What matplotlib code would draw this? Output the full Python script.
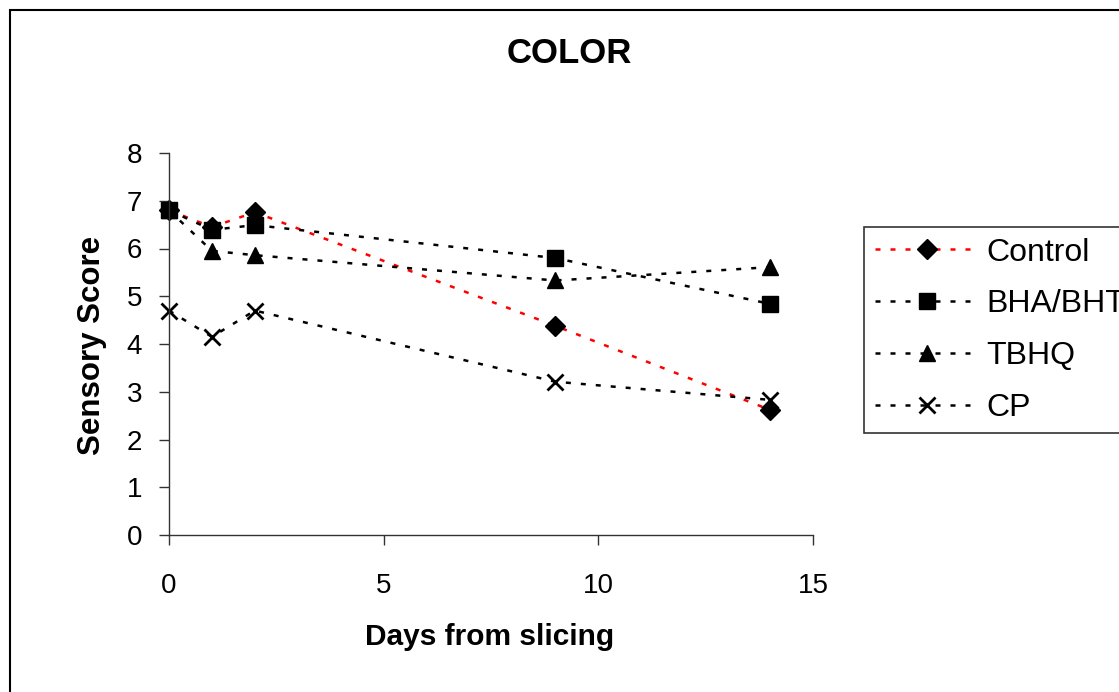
import matplotlib.pyplot as plt
import matplotlib.patches as patches

plt.rcParams['font.family'] = ['Liberation Sans', 'DejaVu Sans']

days = [0, 1, 2, 9, 14]
control = [6.8, 6.45, 6.76, 4.38, 2.62]
bha_bht = [6.8, 6.39, 6.49, 5.8, 4.84]
tbhq = [6.8, 5.95, 5.86, 5.33, 5.61]
cp = [4.7, 4.15, 4.7, 3.21, 2.83]

labels = ["Control", "BHA/BHT", "TBHQ", "CP"]
series = [control, bha_bht, tbhq, cp]
line_colors = ["#FF0000", "black", "black", "black"]
markers = ["D", "s", "^", "x"]
msizes = [10, 11, 12, 12]

fig = plt.figure(figsize=(11.19, 6.92), dpi=100)
ax = fig.add_axes([169/1119, 1-535/692, (813-169)/1119, (535-153)/692])

for y, lab, c, m, ms in zip(series, labels, line_colors, markers, msizes):
    ax.plot(days, y, color=c, lw=1.8, dashes=(2, 4), marker=m, ms=ms,
            mfc="black", mec="black", mew=2 if m == "x" else 1,
            label=lab, clip_on=False)

ax.set_xlim(0, 15)
ax.set_ylim(0, 8)
ax.set_xticks([0, 5, 10, 15])
ax.set_yticks(range(0, 9))
ax.spines['top'].set_visible(False)
ax.spines['right'].set_visible(False)
for s in ['left', 'bottom']:
    ax.spines[s].set_linewidth(1.0)
    ax.spines[s].set_color('#333333')
ax.tick_params(direction='out', length=7.5, width=1.0, color='#333333',
               labelsize=20)
ax.tick_params(axis='x', pad=20)
ax.tick_params(axis='y', pad=12)

fig.text(0.509, 0.923, "COLOR", ha='center', va='center', fontsize=25,
         fontweight='bold')
fig.text(92/1119, 1-345/692, "Sensory Score", ha='center', va='center',
         rotation=90, fontsize=22.5, fontweight='bold')
fig.text(490/1119, 1-637/692, "Days from slicing", ha='center', va='center',
         fontsize=21.5, fontweight='bold')

leg = ax.legend(loc='upper left', bbox_to_anchor=(864/1119, 1-227/692),
                bbox_transform=fig.transFigure, fontsize=23, frameon=True,
                fancybox=False, handlelength=3.3, handletextpad=0.2,
                labelspacing=0.68, borderpad=0.33, borderaxespad=0)
leg.get_frame().set_edgecolor('black')
leg.get_frame().set_linewidth(1.2)

# outer chart border
fig.patches.append(patches.Rectangle((10/1119, -0.1), 1.2, 1.1 - 10/692,
                                     transform=fig.transFigure, fill=False,
                                     edgecolor='black', lw=1.5))

fig.savefig("out.png", dpi=100)
